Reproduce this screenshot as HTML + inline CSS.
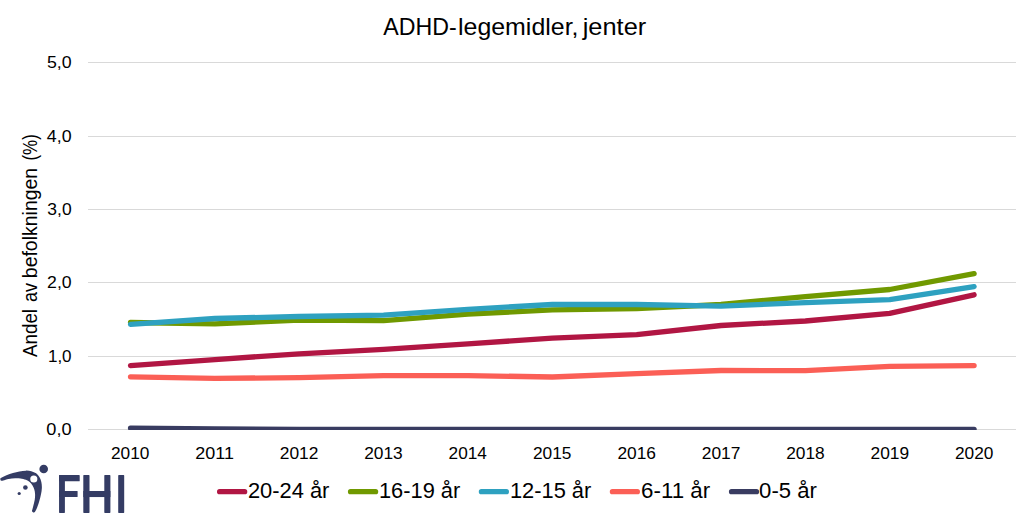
<!DOCTYPE html>
<html><head><meta charset="utf-8"><title>ADHD-legemidler, jenter</title>
<style>
html,body{margin:0;padding:0;background:#fff;}
body{width:1032px;height:519px;overflow:hidden;font-family:"Liberation Sans",sans-serif;}
svg{display:block;}
text{font-family:"Liberation Sans",sans-serif;fill:#000;}
</style></head><body>
<svg width="1032" height="519" viewBox="0 0 1032 519">
<rect x="0" y="0" width="1032" height="519" fill="#ffffff"/>
<defs><clipPath id="plot"><rect x="88" y="50" width="928" height="380"/></clipPath></defs>

<g stroke="#D9D9D9" stroke-width="1" fill="none">
<line x1="88" y1="62.5" x2="1016" y2="62.5"/>
<line x1="88" y1="136.5" x2="1016" y2="136.5"/>
<line x1="88" y1="209.5" x2="1016" y2="209.5"/>
<line x1="88" y1="282.5" x2="1016" y2="282.5"/>
<line x1="88" y1="356.5" x2="1016" y2="356.5"/>
<line x1="88" y1="429.5" x2="1016" y2="429.5"/>
</g>
<g fill="none" stroke-linecap="round" stroke-linejoin="round" clip-path="url(#plot)">
<polyline stroke="#B11643" stroke-width="5.3" points="130.5,365.6 214.9,359.6 299.2,353.8 383.6,349.4 467.9,343.8 552.3,338.2 636.7,334.6 721.0,325.5 805.4,321.0 889.7,313.4 974.1,294.8"/>
<polyline stroke="#709900" stroke-width="5.3" points="130.5,322.5 214.9,323.9 299.2,320.0 383.6,320.6 467.9,314.1 552.3,309.9 636.7,308.6 721.0,304.5 805.4,296.6 889.7,289.5 974.1,273.6"/>
<polyline stroke="#2EA1C0" stroke-width="5.3" points="130.5,324.4 214.9,318.5 299.2,316.5 383.6,315.2 467.9,309.3 552.3,304.5 636.7,304.5 721.0,306.2 805.4,302.6 889.7,299.6 974.1,286.6"/>
<polyline stroke="#FB5F56" stroke-width="5.3" points="130.5,376.8 214.9,378.4 299.2,377.6 383.6,375.6 467.9,375.6 552.3,377.0 636.7,373.6 721.0,370.5 805.4,370.7 889.7,366.4 974.1,365.6"/>
<polyline stroke="#393C61" stroke-width="5.3" points="130.5,428.1 214.9,428.9 299.2,429.5 383.6,429.5 467.9,429.5 552.3,429.5 636.7,429.5 721.0,429.5 805.4,429.5 889.7,429.5 974.1,429.5"/>
</g>
<text x="383.35" y="34.6" font-size="23.8" textLength="73.37" lengthAdjust="spacingAndGlyphs">ADHD-</text>
<text x="458.04" y="34.6" font-size="23.8" textLength="120.47" lengthAdjust="spacingAndGlyphs">legemidler,</text>
<text x="582.72" y="34.6" font-size="23.8" textLength="63.50" lengthAdjust="spacingAndGlyphs">jenter</text>
<text x="46.99" y="68.1" font-size="17.4" textLength="24.65" lengthAdjust="spacingAndGlyphs">5,0</text>
<text x="46.89" y="142.1" font-size="17.4" textLength="24.75" lengthAdjust="spacingAndGlyphs">4,0</text>
<text x="47.33" y="215.1" font-size="17.4" textLength="24.30" lengthAdjust="spacingAndGlyphs">3,0</text>
<text x="47.11" y="288.1" font-size="17.4" textLength="24.53" lengthAdjust="spacingAndGlyphs">2,0</text>
<text x="47.90" y="362.1" font-size="17.4" textLength="23.72" lengthAdjust="spacingAndGlyphs">1,0</text>
<text x="46.39" y="435.1" font-size="17.4" textLength="25.27" lengthAdjust="spacingAndGlyphs">0,0</text>
<text x="110.98" y="458.7" font-size="17.4" textLength="38.44" lengthAdjust="spacingAndGlyphs">2010</text>
<text x="195.38" y="458.7" font-size="17.4" textLength="38.62" lengthAdjust="spacingAndGlyphs">2011</text>
<text x="279.78" y="458.7" font-size="17.4" textLength="38.65" lengthAdjust="spacingAndGlyphs">2012</text>
<text x="364.18" y="458.7" font-size="17.4" textLength="38.53" lengthAdjust="spacingAndGlyphs">2013</text>
<text x="448.58" y="458.7" font-size="17.4" textLength="38.27" lengthAdjust="spacingAndGlyphs">2014</text>
<text x="532.98" y="458.7" font-size="17.4" textLength="38.50" lengthAdjust="spacingAndGlyphs">2015</text>
<text x="617.38" y="458.7" font-size="17.4" textLength="38.53" lengthAdjust="spacingAndGlyphs">2016</text>
<text x="701.78" y="458.7" font-size="17.4" textLength="38.65" lengthAdjust="spacingAndGlyphs">2017</text>
<text x="786.18" y="458.7" font-size="17.4" textLength="38.52" lengthAdjust="spacingAndGlyphs">2018</text>
<text x="870.58" y="458.7" font-size="17.4" textLength="38.59" lengthAdjust="spacingAndGlyphs">2019</text>
<text x="954.98" y="458.7" font-size="17.4" textLength="38.44" lengthAdjust="spacingAndGlyphs">2020</text>
<text transform="translate(37.4,357.0) rotate(-90)" font-size="19.8" textLength="48.0" lengthAdjust="spacingAndGlyphs">Andel</text>
<text transform="translate(37.4,302.0) rotate(-90)" font-size="19.8" textLength="19.0" lengthAdjust="spacingAndGlyphs">av</text>
<text transform="translate(37.4,278.2) rotate(-90)" font-size="19.8" textLength="110.4" lengthAdjust="spacingAndGlyphs">befolkningen</text>
<text transform="translate(37.4,160.6) rotate(-90)" font-size="19.8" textLength="26.4" lengthAdjust="spacingAndGlyphs">(%)</text>
<line x1="219.6" y1="491.65" x2="244.7" y2="491.65" stroke="#B11643" stroke-width="5.2" stroke-linecap="round"/>
<text x="247.90" y="498.0" font-size="21.3" textLength="81.46" lengthAdjust="spacingAndGlyphs">20-24 år</text>
<line x1="350.5" y1="491.65" x2="375.6" y2="491.65" stroke="#709900" stroke-width="5.2" stroke-linecap="round"/>
<text x="378.94" y="498.0" font-size="21.3" textLength="81.33" lengthAdjust="spacingAndGlyphs">16-19 år</text>
<line x1="481.4" y1="491.65" x2="506.4" y2="491.65" stroke="#2EA1C0" stroke-width="5.2" stroke-linecap="round"/>
<text x="509.94" y="498.0" font-size="21.3" textLength="81.33" lengthAdjust="spacingAndGlyphs">12-15 år</text>
<line x1="612.4" y1="491.65" x2="637.4" y2="491.65" stroke="#FB5F56" stroke-width="5.2" stroke-linecap="round"/>
<text x="641.09" y="498.0" font-size="21.3" textLength="69.07" lengthAdjust="spacingAndGlyphs">6-11 år</text>
<line x1="731.5" y1="491.65" x2="756.5" y2="491.65" stroke="#393C61" stroke-width="5.2" stroke-linecap="round"/>
<text x="759.14" y="498.0" font-size="21.3" textLength="57.63" lengthAdjust="spacingAndGlyphs">0-5 år</text>
<g fill="#343C64">
<circle cx="43.7" cy="469.0" r="4.3"/>
<path d="M0.86,477.97 C1.89,477.32 4.46,475.99 6.47,475.16 C8.49,474.34 10.79,473.62 12.95,473.01 C15.11,472.39 17.26,471.89 19.42,471.50 C21.58,471.10 23.92,470.69 25.90,470.63 C27.87,470.58 29.58,470.72 31.29,471.17 C33.00,471.62 34.80,472.34 36.15,473.33 C37.50,474.32 38.52,475.67 39.38,477.11 C40.25,478.54 40.91,480.16 41.33,481.96 C41.74,483.76 41.92,485.83 41.87,487.90 C41.81,489.96 41.42,492.21 41.00,494.37 C40.59,496.53 40.01,498.69 39.38,500.84 C38.75,503.00 37.93,505.56 37.23,507.32 C36.52,509.08 35.77,510.55 35.18,511.42 C34.58,512.28 34.19,512.53 33.66,512.50 C33.14,512.46 32.26,511.71 32.05,511.20 C31.83,510.70 32.14,510.48 32.37,509.48 C32.60,508.47 33.05,506.78 33.45,505.16 C33.84,503.54 34.47,501.56 34.74,499.76 C35.01,497.97 35.14,496.08 35.07,494.37 C35.00,492.66 34.76,491.04 34.31,489.51 C33.86,487.99 33.14,486.46 32.37,485.20 C31.60,483.94 30.75,482.86 29.67,481.96 C28.59,481.06 27.42,480.40 25.90,479.80 C24.37,479.21 22.30,478.67 20.50,478.40 C18.70,478.13 17.08,478.08 15.11,478.18 C13.13,478.29 10.61,478.65 8.63,479.05 C6.65,479.44 4.53,480.31 3.24,480.56 C1.94,480.81 1.35,480.81 0.86,480.56 C0.38,480.31 0.32,479.48 0.32,479.05 C0.32,478.62 -0.16,478.62 0.86,477.97 Z"/>
<circle cx="25.4" cy="487.5" r="2.3"/>
<circle cx="19.2" cy="493.5" r="1.6"/>
<rect x="59.05" y="475.1" width="5.85" height="37.8" rx="0.6"/>
<rect x="59.05" y="475.1" width="20.65" height="6.2" rx="0.6"/>
<rect x="59.05" y="491.0" width="18.55" height="6.05" rx="0.6"/>
<rect x="83.3" y="475.1" width="6.2" height="37.8" rx="0.6"/>
<rect x="104.3" y="475.1" width="6.1" height="37.8" rx="0.6"/>
<rect x="83.3" y="491.0" width="27.1" height="6.05"/>
<rect x="118.2" y="475.1" width="6.0" height="37.8" rx="0.6"/>
</g>
<circle cx="33.8" cy="479.05" r="3.55" fill="#fff"/>

</svg></body></html>
